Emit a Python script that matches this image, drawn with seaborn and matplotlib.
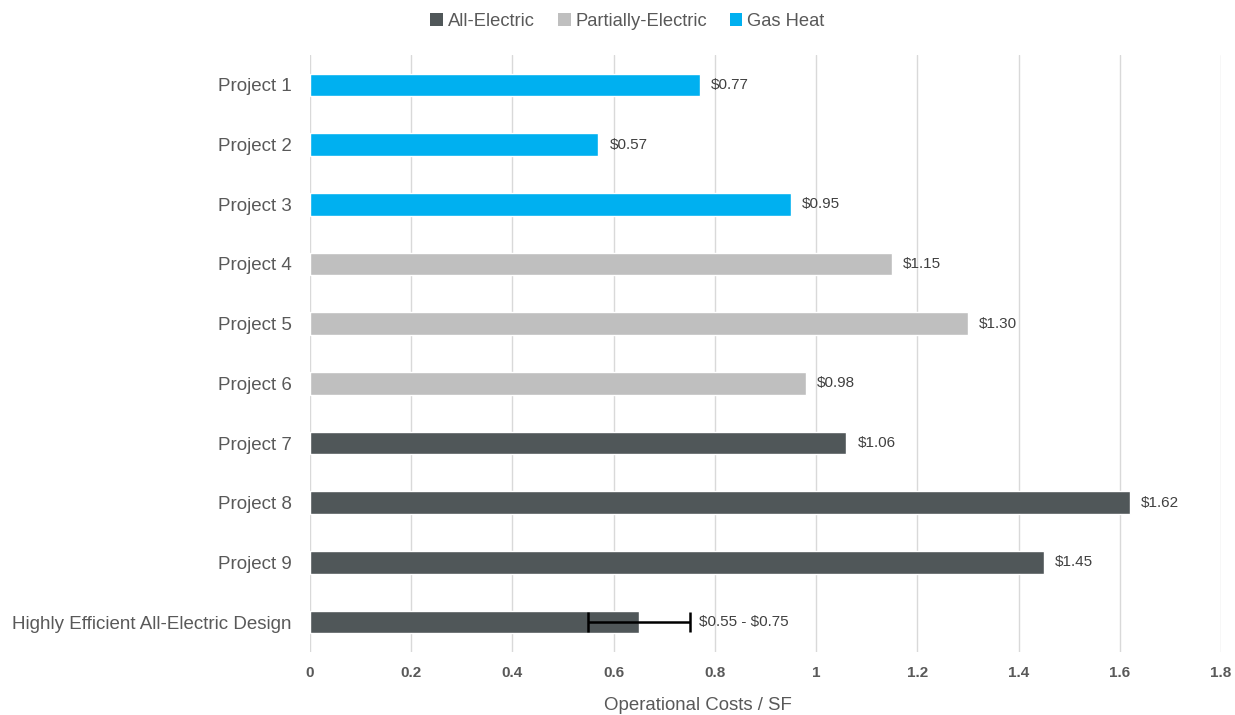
import matplotlib
matplotlib.use("Agg")
import matplotlib.pyplot as plt
from matplotlib.patches import Patch
import seaborn as sns
import pandas as pd

projects = ["Project 1", "Project 2", "Project 3", "Project 4", "Project 5",
            "Project 6", "Project 7", "Project 8", "Project 9",
            "Highly Efficient All-Electric Design"]
costs = [0.77, 0.57, 0.95, 1.15, 1.30, 0.98, 1.06, 1.62, 1.45, 0.65]
types = ["Gas Heat", "Gas Heat", "Gas Heat",
         "Partially-Electric", "Partially-Electric", "Partially-Electric",
         "All-Electric", "All-Electric", "All-Electric", "All-Electric"]
value_labels = ["$0.77", "$0.57", "$0.95", "$1.15", "$1.30", "$0.98",
                "$1.06", "$1.62", "$1.45", "$0.55 - $0.75"]
range_low, range_high = 0.55, 0.75
x_ticks = [0, 0.2, 0.4, 0.6, 0.8, 1, 1.2, 1.4, 1.6, 1.8]
x_tick_labels = ["0", "0.2", "0.4", "0.6", "0.8", "1", "1.2", "1.4", "1.6", "1.8"]

palette = {"All-Electric": "#505759",
           "Partially-Electric": "#BFBFBF",
           "Gas Heat": "#00B0F0"}
legend_order = ["All-Electric", "Partially-Electric", "Gas Heat"]
text_color = "#595959"

df = pd.DataFrame({"project": projects, "cost": costs, "type": types})

sns.set_theme(style="white")
plt.rcParams["font.family"] = ["Liberation Sans", "DejaVu Sans"]

fig = plt.figure(figsize=(12.35, 7.15), dpi=100)
ax = fig.add_axes([310 / 1235, 1 - 652 / 715, (1221 - 310) / 1235, (652 - 55) / 715])

sns.barplot(data=df, x="cost", y="project", hue="type", palette=palette,
            dodge=False, orient="h", width=0.38, ax=ax, legend=False,
            order=projects, saturation=1)

# range whisker on the design bar
last = len(projects) - 1
center = costs[last]
ax.errorbar(center, last, xerr=[[center - range_low], [range_high - center]],
            fmt="none", ecolor="black", elinewidth=1.8, capsize=7, capthick=1.8,
            zorder=5)

# value annotations
for i, (v, lab) in enumerate(zip(costs, value_labels)):
    xpos = v if i != last else range_high
    offset = 8 if i != last else 7
    ax.annotate(lab, (xpos, i), xytext=(offset, 0), textcoords="offset points",
                va="center", ha="left", fontsize=11, color="#404040",
                parse_math=False)

ax.set_xlim(0, 1.8)
ax.set_ylim(len(projects) - 0.5, -0.5)
ax.set_xticks(x_ticks)
ax.set_xticklabels(x_tick_labels, fontweight="bold", fontsize=11, color=text_color)
ax.tick_params(axis="y", labelsize=13.5, labelcolor=text_color, length=0, pad=13)
ax.tick_params(axis="x", length=0, pad=10)
ax.xaxis.grid(True, color="#D9D9D9", linewidth=1)
ax.set_axisbelow(True)
for s in ax.spines.values():
    s.set_visible(False)
ax.set_ylabel("")
ax.set_xlabel("Operational Costs / SF", fontsize=13.4, color=text_color)
ax.xaxis.set_label_coords((698 - 310) / 911, -(705 - 652) / (652 - 55))
ax.xaxis.label.set_va("center")

handles = [Patch(facecolor=palette[k], edgecolor="none", label=k) for k in legend_order]
fig.legend(handles=handles, loc="upper center", bbox_to_anchor=(0.508, 1.005), ncol=3,
           frameon=False, fontsize=13.2, handlelength=0.7, handleheight=0.7,
           handletextpad=0.25, columnspacing=1.25, labelcolor=text_color)

fig.savefig("out.png", dpi=100)
